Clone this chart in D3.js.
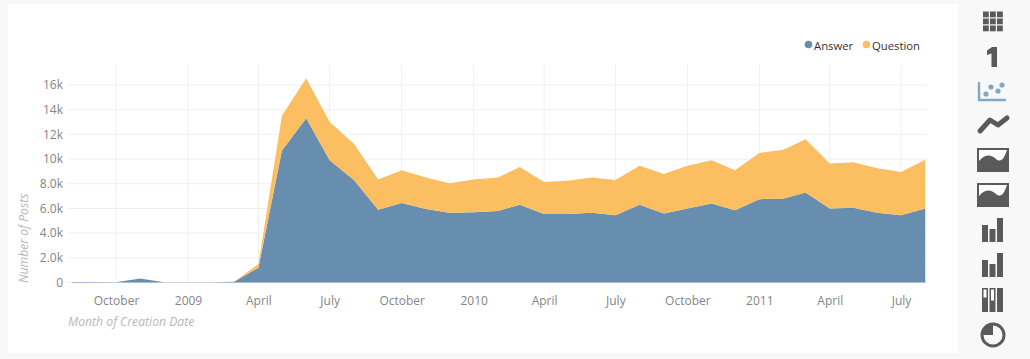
<!DOCTYPE html>
<html><head><meta charset="utf-8">
<script src="https://cdn.jsdelivr.net/npm/d3@7"></script>
<style>
html,body{margin:0;padding:0;background:#f8f8f8;overflow:hidden}
svg{display:block}
text{font-family:"Open Sans",sans-serif}
</style></head><body>
<svg id="c" width="1030" height="359"></svg>
<script>
const months = ["2008-08","2008-09","2008-10","2008-11","2008-12","2009-01","2009-02","2009-03","2009-04","2009-05","2009-06","2009-07","2009-08","2009-09","2009-10","2009-11","2009-12","2010-01","2010-02","2010-03","2010-04","2010-05","2010-06","2010-07","2010-08","2010-09","2010-10","2010-11","2010-12","2011-01","2011-02","2011-03","2011-04","2011-05","2011-06","2011-07","2011-08"];
const answer = [30,50,30,330,20,20,30,60,1200,10700,13300,9900,8300,5900,6450,5950,5650,5700,5800,6300,5550,5550,5650,5450,6300,5600,6000,6400,5850,6750,6800,7300,6000,6050,5650,5450,6000];
const question = [0,0,0,0,0,0,0,0,300,2800,3250,3100,2950,2450,2650,2550,2400,2650,2700,3050,2600,2700,2850,2850,3150,3200,3450,3500,3250,3750,3950,4300,3650,3700,3600,3500,3950];
const yTicks = [0,2000,4000,6000,8000,10000,12000,14000,16000];
const yLabels = ["0","2.0k","4.0k","6.0k","8.0k","10k","12k","14k","16k"];
const xTickDates = ["2008-10","2009-01","2009-04","2009-07","2009-10","2010-01","2010-04","2010-07","2010-10","2011-01","2011-04","2011-07"];
const xTickLabels = ["October","2009","April","July","October","2010","April","July","October","2011","April","July"];
const seriesNames = ["Answer","Question"];
const seriesColors = ["#688eaf","#fbbe61"];

const parse = d3.utcParse("%Y-%m");
const svg = d3.select("#c");
svg.append("rect").attr("x",8).attr("y",4).attr("width",950).attr("height",349).attr("fill","#fff");

const x = d3.scaleUtc().domain([parse("2008-10"),parse("2011-07")]).range([116,901]);
const y = d3.scaleLinear().domain([0,16000]).range([282.5,85]);

const rows = months.map((m,i)=>({date:parse(m),Answer:answer[i],Question:question[i]}));
const stacked = d3.stack().keys(seriesNames)(rows);

svg.append("clipPath").attr("id","plot").append("rect").attr("x",72).attr("y",60).attr("width",855).attr("height",223);

const gridG = svg.append("g");
gridG.selectAll("line.h").data(yTicks).join("line").attr("class","h")
  .attr("x1",68).attr("x2",927).attr("y1",d=>y(d)).attr("y2",d=>y(d))
  .attr("stroke","#efefef").attr("stroke-width",1);
gridG.selectAll("line.v").data(xTickDates).join("line").attr("class","v")
  .attr("x1",d=>x(parse(d))).attr("x2",d=>x(parse(d))).attr("y1",65).attr("y2",282.5)
  .attr("stroke","#efefef").attr("stroke-width",1);

const area = d3.area().x(d=>x(d.data.date)).y0(d=>y(d[0])).y1(d=>y(d[1]));
svg.append("g").attr("clip-path","url(#plot)").selectAll("path").data(stacked).join("path")
  .attr("d",area).attr("fill",(d,i)=>seriesColors[i]);

const yAxis = d3.axisLeft(y).tickValues(yTicks).tickFormat((d,i)=>yLabels[i]).tickSize(0).tickPadding(0);
const yg = svg.append("g").attr("transform","translate(63,0)").call(yAxis);
yg.select(".domain").remove();
yg.selectAll("text").attr("font-size",12).attr("fill","#858585").attr("font-family",'"Open Sans",sans-serif');

const xAxis = d3.axisBottom(x).tickValues(xTickDates.map(parse)).tickFormat((d,i)=>xTickLabels[i]).tickSize(0).tickPadding(0);
const xg = svg.append("g").attr("transform","translate(0,296)").call(xAxis);
xg.select(".domain").remove();
xg.selectAll("text").attr("font-size",12).attr("fill","#858585").attr("font-family",'"Open Sans",sans-serif');

svg.append("text").attr("x",68).attr("y",326).attr("font-size",12.2).attr("font-style","italic").attr("font-weight",500).attr("fill","#b8b8b8").text("Month of Creation Date");
svg.append("text").attr("transform","translate(28,283) rotate(-90)").attr("font-size",12.2).attr("font-style","italic").attr("font-weight",400).attr("fill","#b8b8b8").text("Number of Posts");

const legendX = [808.5,866.5];
const lg = svg.append("g").selectAll("g").data(seriesNames).join("g").attr("transform",(d,i)=>`translate(${legendX[i]},44.5)`);
lg.append("circle").attr("r",3.8).attr("fill",(d,i)=>seriesColors[i]);
lg.append("text").attr("x",5.5).attr("y",5).attr("font-size",11.3).attr("fill","#333").text(d=>d);

// chart-type picker icons
const ink="#5a5a5a", ic=svg.append("g").attr("fill",ink);
d3.range(3).forEach(r=>d3.range(3).forEach(c=>ic.append("rect").attr("x",983+c*7).attr("y",11.5+r*7).attr("width",5.8).attr("height",5.8)));
ic.append("path").attr("d","M992 47H997V67H991.5V53.5L987 55V50.5Z");
const blue="#7fa8c4";
ic.append("path").attr("d","M979 82V100H1006").attr("fill","none").attr("stroke",blue).attr("stroke-width",2.4);
[[986,94],[991,87],[998,91],[1002,85]].forEach(p=>ic.append("circle").attr("cx",p[0]).attr("cy",p[1]).attr("r",2.6).attr("fill",blue));
ic.append("path").attr("d","M980 131L990 120L998 125L1007 118").attr("fill","none").attr("stroke",ink).attr("stroke-width",5).attr("stroke-linecap","round").attr("stroke-linejoin","round");
[148,183].forEach(t=>{
  ic.append("rect").attr("x",977).attr("y",t).attr("width",32).attr("height",24);
  ic.append("path").attr("d",`M979 ${t+13}C985 ${t+6} 991 ${t+6} 996 ${t+11}C1001 ${t+15} 1004 ${t+11} 1007 ${t+2}H979Z`).attr("fill","#fff");
});
[218,253].forEach(t=>{
  ic.append("rect").attr("x",982).attr("y",t+7).attr("width",6).attr("height",17);
  ic.append("rect").attr("x",989.5).attr("y",t+11).attr("width",6).attr("height",13);
  ic.append("rect").attr("x",997).attr("y",t).attr("width",6).attr("height",24);
});
ic.append("rect").attr("x",982).attr("y",288).attr("width",6).attr("height",24);
ic.append("rect").attr("x",989.5).attr("y",288).attr("width",6).attr("height",24);
ic.append("rect").attr("x",997).attr("y",288).attr("width",6).attr("height",24);
ic.append("rect").attr("x",983.5).attr("y",289.5).attr("width",3).attr("height",8).attr("fill","#fff");
ic.append("rect").attr("x",991).attr("y",289.5).attr("width",3).attr("height",11).attr("fill","#fff");
ic.append("circle").attr("cx",993).attr("cy",335).attr("r",11).attr("fill","none").attr("stroke",ink).attr("stroke-width",3);
ic.append("path").attr("d","M993 335V324A11 11 0 0 0 982 335Z");
</script>
</body></html>
